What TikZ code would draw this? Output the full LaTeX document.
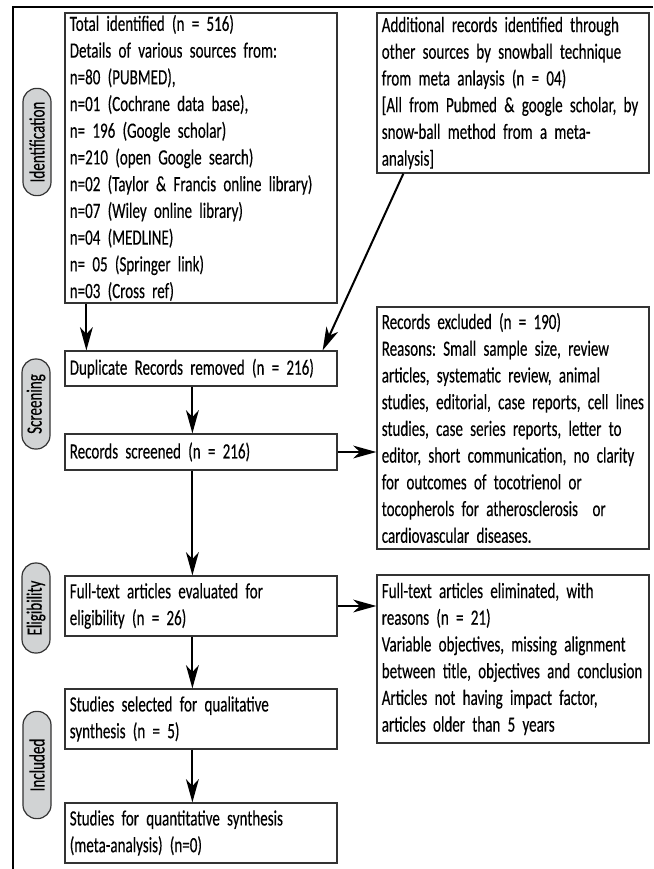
\documentclass[tikz,border=0pt]{standalone}
\usepackage{fontspec}
\setmainfont{Carlito}[FakeStretch=0.69,FakeBold=0.3]
\usepackage{xcolor}
\usepackage{tikz}
\usetikzlibrary{arrows.meta}
\definecolor{linegray}{HTML}{333333}
\definecolor{pillgray}{HTML}{D1D3D4}
\frenchspacing

\begin{document}
\begin{tikzpicture}[x=0.025cm,y=-0.025cm,
  box/.style={draw=linegray,line width=0.3mm,align=left,text width=6.56cm,inner xsep=0.12cm,inner ysep=0pt,font=\fontsize{15.5}{19}\selectfont},
  pill/.style={draw=linegray,line width=0.3mm,fill=pillgray,rounded corners=0.34cm,rotate=90,minimum height=0.7cm,inner sep=0pt,font=\fontsize{15.5}{19}\selectfont},
  arr/.style={-{Stealth[length=5.8mm,width=3.2mm,inset=1.7mm]},line width=0.5mm}]
\useasboundingbox (0,0) rectangle (653,869);
\draw [line width=0.4mm] (653,7) -- (13,7) -- (13,869);
\node (1) at (201,158) [box,minimum height=7.25cm] {Total identified (n = 516)\\Details of various sources from:\\n=80 (PUBMED),\\n=01 (Cochrane data base),\\n= 196 (Google scholar)\\n=210 (open Google search)\\n=02 (Taylor \& Francis online library)\\n=07 (Wiley online library)\\n=04 (MEDLINE)\\n= 05 (Springer link)\\n=03 (Cross ref)};
\node (2) at (513,93) [box,minimum height=4cm] {Additional records identified through\\other sources by snowball technique\\from meta anlaysis (n = 04)\\{[}All from Pubmed \& google scholar, by\\snow-ball method from a meta-\\analysis]};
\node (3) at (201,368.5) [box,minimum height=0.875cm] {Duplicate Records removed (n = 216)};
\node (4) at (201,452) [box,minimum height=0.9cm] {Records screened (n = 216)};
\node (5) at (513,428) [box,minimum height=6.05cm] {Records excluded (n = 190)\\Reasons: Small sample size, review\\articles, systematic review, animal\\studies, editorial, case reports, cell lines\\studies, case series reports, letter to\\editor, short communication, no clarity\\for outcomes of tocotrienol or\\tocopherols for atherosclerosis\ \ or\\cardiovascular diseases.};
\node (6) at (201,606) [box,minimum height=1.5cm] {Full-text articles evaluated for\\eligibility (n = 26)};
\node (7) at (513,659) [box,minimum height=4.2cm] {Full-text articles eliminated, with\\reasons (n = 21)\\Variable objectives, missing alignment\\between title, objectives and conclusion\\Articles not having impact factor,\\articles older than 5 years};
\node (8) at (201,719) [box,minimum height=1.5cm] {Studies selected for qualitative\\synthesis (n = 5)};
\node (9) at (201,833) [box,minimum height=1.5cm] {Studies for quantitative synthesis\\(meta-analysis) (n=0)};
\node (10) at (37,142) [pill,minimum width=2.68cm] {Identification};
\node (11) at (36,404) [pill,minimum width=2.25cm] {Screening};
\node (12) at (36,608) [pill,minimum width=2.25cm] {Eligibility};
\node (13) at (37,765) [pill,minimum width=2.68cm] {Included};
\draw [arr] ([xshift=0.55cm]1.south west) -- ([xshift=0.55cm]3.north west);
\draw [arr] ([xshift=0.675cm]2.south west) -- ([xshift=-0.375cm]3.north east);
\draw [arr] ([xshift=3.2cm]3.south west) -- ([xshift=3.2cm]4.north west);
\draw [arr] (4.east) -- (4.east -| 5.west);
\draw [arr] ([xshift=3.2cm]4.south west) -- ([xshift=3.2cm]6.north west);
\draw [arr] (6.east) -- (6.east -| 7.west);
\draw [arr] ([xshift=3.2cm]6.south west) -- ([xshift=3.2cm]8.north west);
\draw [arr] ([xshift=3.2cm]8.south west) -- ([xshift=3.2cm]9.north west);
\end{tikzpicture}
\end{document}
